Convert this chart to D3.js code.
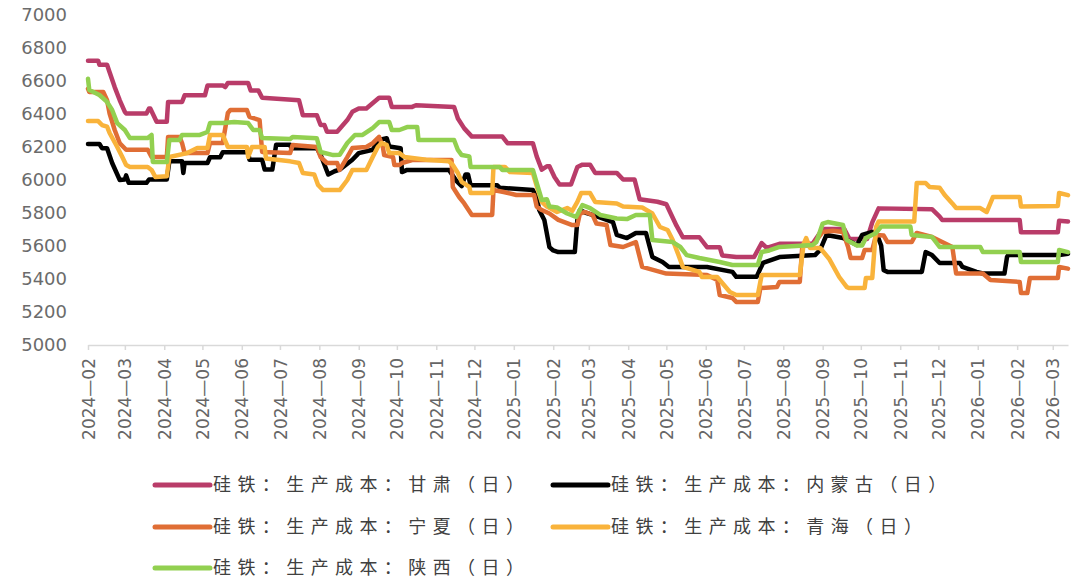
<!DOCTYPE html>
<html>
<head>
<meta charset="utf-8">
<script src="https://cdn.jsdelivr.net/npm/d3@7"></script>
<style>
  body { margin: 0; background: #fff; }
  svg { display: block; }
</style>
</head>
<body>
<div id="chart"></div>
<script>
// daily cost series, [date, yuan/t]
const gansu = [["2024-02-01",6720],["2024-02-09",6720],["2024-02-10",6695],["2024-02-16",6695],["2024-02-18",6650],["2024-02-22",6560],["2024-02-26",6480],["2024-03-01",6410],["2024-03-02",6400],["2024-03-18",6400],["2024-03-20",6430],["2024-03-21",6430],["2024-03-26",6350],["2024-04-03",6350],["2024-04-04",6470],["2024-04-15",6470],["2024-04-17",6510],["2024-05-03",6510],["2024-05-05",6570],["2024-05-17",6570],["2024-05-19",6560],["2024-05-21",6585],["2024-06-06",6585],["2024-06-08",6540],["2024-06-14",6540],["2024-06-17",6495],["2024-07-16",6480],["2024-07-19",6390],["2024-07-30",6390],["2024-08-02",6330],["2024-08-05",6330],["2024-08-07",6290],["2024-08-15",6290],["2024-08-23",6360],["2024-08-27",6410],["2024-09-01",6430],["2024-09-07",6430],["2024-09-17",6495],["2024-09-25",6495],["2024-09-27",6440],["2024-10-13",6440],["2024-10-16",6450],["2024-11-15",6440],["2024-11-18",6370],["2024-11-23",6310],["2024-11-29",6260],["2024-12-23",6260],["2024-12-27",6220],["2025-01-16",6220],["2025-01-19",6140],["2025-01-23",6060],["2025-01-27",6080],["2025-01-29",6080],["2025-02-02",6015],["2025-02-06",5970],["2025-02-15",5970],["2025-02-20",6076],["2025-02-24",6090],["2025-03-02",6090],["2025-03-06",6040],["2025-03-23",6040],["2025-03-28",6000],["2025-04-06",6000],["2025-04-10",5880],["2025-04-24",5865],["2025-05-01",5850],["2025-05-09",5720],["2025-05-14",5650],["2025-05-27",5650],["2025-06-02",5590],["2025-06-12",5590],["2025-06-14",5540],["2025-06-25",5530],["2025-07-09",5530],["2025-07-15",5615],["2025-07-19",5585],["2025-07-29",5610],["2025-08-24",5610],["2025-09-01",5700],["2025-09-18",5700],["2025-09-22",5640],["2025-10-06",5640],["2025-10-10",5740],["2025-10-15",5825],["2025-11-26",5820],["2025-12-02",5775],["2025-12-04",5755],["2026-02-03",5755],["2026-02-04",5680],["2026-03-05",5680],["2026-03-06",5750],["2026-03-13",5745]];

const neimenggu = [["2024-02-01",6215],["2024-02-10",6215],["2024-02-12",6190],["2024-02-16",6190],["2024-02-20",6100],["2024-02-26",5997],["2024-03-01",6000],["2024-03-02",6025],["2024-03-04",5980],["2024-03-18",5980],["2024-03-20",6000],["2024-04-03",6000],["2024-04-05",6110],["2024-04-15",6110],["2024-04-16",6040],["2024-04-17",6100],["2024-05-05",6100],["2024-05-07",6135],["2024-05-15",6135],["2024-05-17",6165],["2024-06-06",6165],["2024-06-07",6120],["2024-06-17",6120],["2024-06-19",6060],["2024-06-25",6060],["2024-06-28",6210],["2024-07-09",6210],["2024-07-10",6190],["2024-07-30",6190],["2024-08-02",6150],["2024-08-08",6030],["2024-08-13",6050],["2024-08-17",6060],["2024-08-27",6120],["2024-09-01",6160],["2024-09-12",6180],["2024-09-17",6240],["2024-09-23",6250],["2024-09-25",6200],["2024-10-04",6190],["2024-10-05",6045],["2024-10-09",6058],["2024-11-11",6058],["2024-11-17",5990],["2024-11-21",5960],["2024-11-24",6030],["2024-11-26",6030],["2024-11-28",5965],["2024-12-19",5965],["2024-12-21",5950],["2025-01-16",5936],["2025-01-19",5890],["2025-01-21",5815],["2025-01-25",5755],["2025-01-29",5590],["2025-02-01",5570],["2025-02-05",5560],["2025-02-18",5560],["2025-02-20",5755],["2025-02-22",5815],["2025-02-26",5800],["2025-03-04",5785],["2025-03-20",5742],["2025-03-23",5665],["2025-03-31",5645],["2025-04-07",5676],["2025-04-15",5676],["2025-04-20",5530],["2025-04-28",5500],["2025-05-03",5470],["2025-06-02",5470],["2025-06-22",5440],["2025-06-25",5410],["2025-07-11",5410],["2025-07-16",5494],["2025-07-29",5530],["2025-08-26",5542],["2025-08-30",5573],["2025-09-04",5664],["2025-09-17",5645],["2025-09-28",5603],["2025-10-02",5664],["2025-10-10",5682],["2025-10-13",5682],["2025-10-17",5600],["2025-10-19",5450],["2025-10-22",5440],["2025-11-18",5440],["2025-11-21",5560],["2025-11-26",5542],["2025-12-02",5494],["2025-12-18",5494],["2025-12-20",5470],["2025-12-31",5440],["2026-01-05",5430],["2026-01-22",5430],["2026-01-24",5530],["2026-01-25",5542],["2026-03-06",5542],["2026-03-13",5550]];

const ningxia = [["2024-02-01",6550],["2024-02-02",6530],["2024-02-13",6530],["2024-02-16",6480],["2024-02-18",6400],["2024-02-22",6300],["2024-02-26",6220],["2024-03-02",6180],["2024-03-19",6180],["2024-03-22",6136],["2024-04-03",6136],["2024-04-04",6258],["2024-04-13",6258],["2024-04-15",6221],["2024-04-17",6160],["2024-05-05",6160],["2024-05-07",6221],["2024-05-17",6221],["2024-05-21",6403],["2024-05-23",6421],["2024-06-05",6421],["2024-06-07",6380],["2024-06-15",6360],["2024-06-17",6167],["2024-07-09",6160],["2024-07-11",6209],["2024-07-30",6197],["2024-08-02",6136],["2024-08-07",6100],["2024-08-15",6100],["2024-08-17",6058],["2024-08-23",6136],["2024-08-27",6191],["2024-09-07",6197],["2024-09-12",6220],["2024-09-17",6258],["2024-09-20",6197],["2024-09-21",6148],["2024-09-28",6136],["2024-09-29",6088],["2024-10-03",6088],["2024-10-05",6100],["2024-10-13",6118],["2024-11-13",6118],["2024-11-14",5955],["2024-11-19",5894],["2024-11-23",5855],["2024-11-29",5785],["2024-12-15",5785],["2024-12-16",5936],["2024-12-24",5924],["2025-01-03",5906],["2025-01-17",5906],["2025-01-19",5836],["2025-01-23",5815],["2025-01-29",5794],["2025-02-05",5755],["2025-02-16",5724],["2025-02-20",5724],["2025-02-22",5794],["2025-02-26",5803],["2025-03-04",5785],["2025-03-07",5733],["2025-03-15",5724],["2025-03-18",5603],["2025-03-28",5591],["2025-04-07",5621],["2025-04-12",5470],["2025-05-01",5430],["2025-06-02",5421],["2025-06-10",5391],["2025-06-12",5300],["2025-06-22",5282],["2025-06-25",5258],["2025-07-12",5258],["2025-07-14",5342],["2025-07-27",5348],["2025-07-29",5379],["2025-08-14",5379],["2025-08-16",5600],["2025-08-24",5600],["2025-09-01",5682],["2025-09-09",5690],["2025-09-17",5682],["2025-09-21",5591],["2025-09-23",5524],["2025-10-02",5524],["2025-10-04",5573],["2025-10-10",5573],["2025-10-13",5664],["2025-10-19",5660],["2025-10-22",5621],["2025-11-10",5621],["2025-11-14",5676],["2025-11-26",5652],["2025-12-12",5591],["2025-12-15",5430],["2026-01-05",5430],["2026-01-11",5391],["2026-02-03",5379],["2026-02-04",5312],["2026-02-09",5312],["2026-02-11",5403],["2026-03-05",5403],["2026-03-06",5470],["2026-03-13",5460]];

const qinghai = [["2024-02-01",6354],["2024-02-09",6354],["2024-02-12",6330],["2024-02-16",6320],["2024-02-18",6282],["2024-02-24",6197],["2024-02-28",6136],["2024-03-02",6088],["2024-03-05",6076],["2024-03-19",6076],["2024-03-22",6058],["2024-03-25",6015],["2024-04-03",6020],["2024-04-05",6136],["2024-04-19",6160],["2024-04-27",6191],["2024-05-05",6191],["2024-05-07",6270],["2024-05-17",6270],["2024-05-21",6197],["2024-06-05",6197],["2024-06-06",6136],["2024-06-09",6197],["2024-06-19",6197],["2024-06-20",6127],["2024-07-09",6110],["2024-07-16",6100],["2024-07-19",6039],["2024-07-28",6030],["2024-07-31",5967],["2024-08-04",5936],["2024-08-17",5936],["2024-08-23",5997],["2024-08-27",6058],["2024-09-07",6058],["2024-09-12",6136],["2024-09-16",6197],["2024-09-19",6221],["2024-09-23",6210],["2024-09-25",6160],["2024-10-03",6160],["2024-10-07",6136],["2024-10-24",6120],["2024-11-11",6110],["2024-11-14",6088],["2024-11-18",6039],["2024-11-21",5985],["2024-11-27",5955],["2024-11-28",5918],["2024-12-15",5918],["2024-12-16",6076],["2024-12-25",6076],["2024-12-29",6045],["2025-01-16",6039],["2025-01-20",5936],["2025-01-23",5864],["2025-01-27",5836],["2025-02-04",5803],["2025-02-12",5827],["2025-02-16",5810],["2025-02-20",5864],["2025-02-23",5918],["2025-03-02",5918],["2025-03-06",5864],["2025-03-23",5855],["2025-03-28",5836],["2025-04-12",5830],["2025-04-20",5794],["2025-04-26",5712],["2025-05-02",5694],["2025-05-06",5633],["2025-05-10",5554],["2025-05-14",5470],["2025-05-27",5440],["2025-05-29",5409],["2025-06-10",5409],["2025-06-14",5373],["2025-06-20",5318],["2025-06-25",5300],["2025-07-12",5300],["2025-07-15",5421],["2025-08-14",5421],["2025-08-17",5610],["2025-08-19",5645],["2025-08-22",5585],["2025-08-30",5585],["2025-09-06",5520],["2025-09-14",5409],["2025-09-20",5348],["2025-09-22",5342],["2025-10-04",5342],["2025-10-05",5403],["2025-10-10",5403],["2025-10-13",5712],["2025-10-15",5745],["2025-11-12",5745],["2025-11-14",5979],["2025-11-21",5979],["2025-11-24",5955],["2025-12-02",5950],["2025-12-06",5906],["2025-12-12",5855],["2025-12-15",5827],["2026-01-03",5827],["2026-01-08",5803],["2026-01-13",5894],["2026-02-03",5894],["2026-02-04",5836],["2026-03-05",5840],["2026-03-06",5918],["2026-03-13",5905]];

const shaanxi = [["2024-02-01",6610],["2024-02-02",6542],["2024-02-10",6512],["2024-02-16",6470],["2024-02-20",6421],["2024-02-24",6342],["2024-03-01",6300],["2024-03-05",6251],["2024-03-19",6251],["2024-03-22",6270],["2024-03-23",6106],["2024-04-03",6106],["2024-04-05",6239],["2024-04-13",6239],["2024-04-15",6270],["2024-04-29",6270],["2024-05-05",6288],["2024-05-07",6342],["2024-05-17",6342],["2024-05-26",6348],["2024-06-06",6342],["2024-06-10",6300],["2024-06-15",6300],["2024-06-17",6251],["2024-07-09",6245],["2024-07-11",6258],["2024-07-30",6250],["2024-08-02",6167],["2024-08-12",6148],["2024-08-17",6150],["2024-08-23",6221],["2024-08-29",6270],["2024-09-04",6270],["2024-09-12",6312],["2024-09-17",6348],["2024-09-25",6348],["2024-09-27",6300],["2024-10-03",6300],["2024-10-09",6318],["2024-10-17",6318],["2024-10-18",6239],["2024-11-15",6239],["2024-11-18",6179],["2024-11-21",6148],["2024-11-27",6140],["2024-11-28",6076],["2024-12-21",6076],["2024-12-23",6058],["2025-01-16",6058],["2025-01-19",5979],["2025-01-23",5876],["2025-01-27",5880],["2025-01-29",5836],["2025-02-04",5830],["2025-02-12",5794],["2025-02-19",5773],["2025-02-24",5845],["2025-03-02",5827],["2025-03-10",5785],["2025-03-23",5764],["2025-03-31",5760],["2025-04-07",5785],["2025-04-18",5785],["2025-04-20",5633],["2025-05-06",5621],["2025-05-12",5591],["2025-05-17",5542],["2025-05-27",5524],["2025-06-12",5500],["2025-06-22",5482],["2025-07-12",5482],["2025-07-15",5561],["2025-07-21",5570],["2025-07-29",5591],["2025-08-24",5603],["2025-08-27",5620],["2025-09-01",5733],["2025-09-05",5742],["2025-09-17",5724],["2025-09-20",5633],["2025-09-28",5600],["2025-10-02",5600],["2025-10-05",5645],["2025-10-13",5676],["2025-10-17",5715],["2025-11-09",5715],["2025-11-10",5664],["2025-11-26",5652],["2025-12-02",5591],["2026-01-03",5591],["2026-01-05",5561],["2026-02-03",5561],["2026-02-04",5500],["2026-03-05",5500],["2026-03-06",5573],["2026-03-13",5560]];

const seriesNames = ["硅铁：生产成本：甘肃（日）", "硅铁：生产成本：内蒙古（日）", "硅铁：生产成本：宁夏（日）", "硅铁：生产成本：青海（日）", "硅铁：生产成本：陕西（日）"];
const seriesColors = ["#b93c69", "#000000", "#e06e35", "#f9b33b", "#92d050"];
const yTicks = [5000, 5200, 5400, 5600, 5800, 6000, 6200, 6400, 6600, 6800, 7000];
const dateStart = "2024-02-01", dateEnd = "2026-03-13";

const parse = d3.utcParse("%Y-%m-%d");
const allSeries = [gansu, neimenggu, ningxia, qinghai, shaanxi].map((s, i) => ({
  name: seriesNames[i],
  color: seriesColors[i],
  values: s.map(([d, v]) => ({ date: parse(d), value: v }))
}));

const width = 1079, height = 581;
const margin = { top: 14.5, left: 88, right: 11, bottom: 236.5 };

const x = d3.scaleUtc()
  .domain([parse(dateStart), parse(dateEnd)])
  .range([margin.left, width - margin.right]);
const y = d3.scaleLinear()
  .domain([5000, 7000])
  .range([height - margin.bottom, margin.top]);

const svg = d3.select("#chart")
  .append("svg")
  .attr("width", width)
  .attr("height", height)
  .style("background-color", "#fff");

// y axis, labels only
svg.append("g")
  .attr("transform", `translate(${margin.left},0)`)
  .call(d3.axisLeft(y).tickValues(yTicks).tickSize(0).tickPadding(21).tickFormat(d3.format("d")))
  .call(g => g.select(".domain").remove())
  .call(g => g.selectAll("text")
    .attr("font-family", "DejaVu Sans, sans-serif")
    .attr("font-size", 18)
    .attr("fill", "#6b6b6b"));

// x axis, month ticks, rotated labels
const months = d3.utcMonth.range(parse(dateStart), d3.utcDay.offset(parse(dateEnd), 1));
const fmtY = d3.utcFormat("%Y"), fmtM = d3.utcFormat("%m");
svg.append("g")
  .attr("transform", `translate(0,${y(5000) + 0.5})`)
  .call(d3.axisBottom(x).tickValues(months).tickSize(5).tickSizeOuter(0)
    .tickFormat(d => fmtY(d) + "—" + fmtM(d)))
  .call(g => g.select(".domain").attr("stroke", "#d9d9d9").attr("stroke-width", 1.5))
  .call(g => g.selectAll(".tick line").attr("stroke", "#d9d9d9").attr("stroke-width", 1.5))
  .call(g => g.selectAll("text")
    .attr("font-family", "DejaVu Sans, sans-serif")
    .attr("font-size", 17)
    .attr("fill", "#666")
    .attr("text-anchor", "end")
    .attr("transform", "rotate(-90)")
    .attr("x", -13)
    .attr("y", 0)
    .attr("dy", "0.36em"));

const line = d3.line()
  .x(d => x(d.date))
  .y(d => y(d.value));

svg.append("g")
  .attr("fill", "none")
  .attr("stroke-width", 4.5)
  .attr("stroke-linejoin", "round")
  .attr("stroke-linecap", "round")
  .selectAll("path")
  .data(allSeries)
  .join("path")
  .attr("stroke", d => d.color)
  .attr("d", d => line(d.values));

// legend, two columns
const legendCols = [155, 553];
const legendRows = [485, 527, 568];
const legend = svg.append("g")
  .selectAll("g")
  .data(allSeries)
  .join("g")
  .attr("transform", (d, i) => `translate(${legendCols[i % 2]},${legendRows[Math.floor(i / 2)]})`);

legend.append("line")
  .attr("x1", 0).attr("x2", 55)
  .attr("stroke", d => d.color)
  .attr("stroke-width", 5)
  .attr("stroke-linecap", "round");

legend.append("text")
  .attr("x", 58)
  .attr("dy", "0.35em")
  .attr("font-family", "Noto Sans CJK SC, sans-serif")
  .attr("font-size", 18)
  .attr("fill", "#404040")
  .attr("textLength", d => d.name.length * 24.3 - 5)
  .attr("lengthAdjust", "spacing")
  .text(d => d.name);
</script>
</body>
</html>
